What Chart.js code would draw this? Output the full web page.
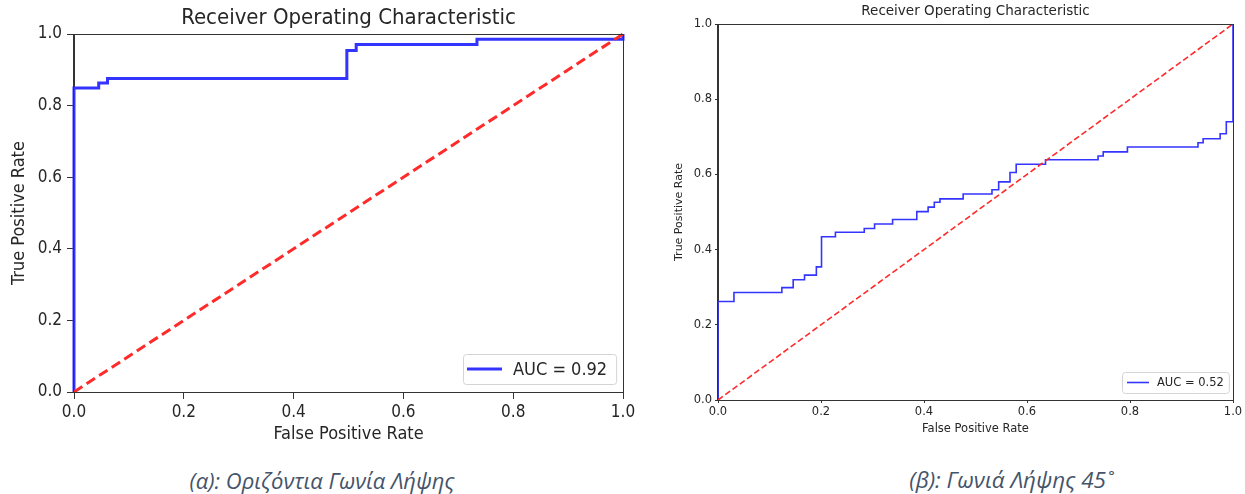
<!DOCTYPE html>
<html>
<head>
<meta charset="utf-8">
<title>ROC</title>
<script src="https://cdn.jsdelivr.net/npm/chart.js"></script>
<style>
body { margin:0; background:#fff; width:1245px; height:494px; position:relative; overflow:hidden; }
.box { position:absolute; }
#boxA { left:0; top:0; width:640px; height:452px; }
#boxB { left:660px; top:0; width:585px; height:446px; }
.cap { position:absolute; font-family:"Open Sans"; font-style:italic; font-size:22px; line-height:30px; color:#44546a; white-space:nowrap; transform:translateX(-50%); }
</style>
</head>
<body>
<div class="box" id="boxA"><canvas id="rocA"></canvas></div>
<div class="box" id="boxB"><canvas id="rocB"></canvas></div>
<div class="cap" style="left:322px; top:465px;">(α): Οριζόντια Γωνία Λήψης</div>
<div class="cap" style="left:1011px; top:465px; font-size:22.5px;">(β): Γωνιά Λήψης 45˚</div>

<script>
// (α) horizontal angle - ROC points
const fprA = [0, 0, 0.045, 0.061, 0.497, 0.514, 0.734, 1];
const tprA = [0, 0.849, 0.863, 0.876, 0.954, 0.971, 0.985, 1];
const aucA = 'AUC = 0.92';

// (β) 45 degree angle - ROC points
const fprB = [0, 0, 0.031, 0.124, 0.146, 0.168, 0.191, 0.201, 0.228, 0.284,
              0.304, 0.339, 0.386, 0.408, 0.42, 0.431, 0.476, 0.532, 0.545, 0.567,
              0.579, 0.636, 0.738, 0.748, 0.795, 0.932, 0.942, 0.975, 0.987, 1];
const tprB = [0, 0.262, 0.286, 0.299, 0.32, 0.332, 0.354, 0.434, 0.446, 0.456,
              0.468, 0.48, 0.501, 0.513, 0.526, 0.535, 0.548, 0.559, 0.58, 0.605,
              0.627, 0.639, 0.649, 0.66, 0.673, 0.684, 0.695, 0.708, 0.74, 1];
const aucB = 'AUC = 0.52';

// chance line
const diagX = [0, 1];
const diagY = [0, 1];
const tickVals = [0, 0.2, 0.4, 0.6, 0.8, 1.0];

const textColor = '#262626';
const rocBlue = '#3434ff';
const chanceRed = '#ff2a2a';
const condensed = '"DejaVu Sans Condensed", "DejaVu Sans"';

// matplotlib box, drawn over the lines like the spines
const framePlugin = {
    id: 'frame',
    afterDatasetsDraw(chart) {
        const a = chart.chartArea, ctx = chart.ctx;
        ctx.save();
        ctx.strokeStyle = '#333';
        ctx.lineWidth = 1;
        ctx.strokeRect(Math.round(a.left) - 0.5, Math.round(a.top) + 0.5,
                       Math.round(a.right - a.left) + 1, Math.round(a.bottom - a.top));
        ctx.restore();
    }
};

// legend box inside lower right corner
const aucLegend = {
    id: 'aucLegend',
    afterDraw(chart, args, o) {
        const a = chart.chartArea, ctx = chart.ctx;
        ctx.save();
        ctx.font = o.size + 'px ' + o.family;
        const tw = ctx.measureText(o.text).width;
        const w = o.padL + o.lineLen + o.gap + tw + o.padR;
        const h = o.h;
        const x = Math.round(a.right - o.offR - w);
        const y = Math.round(a.bottom - o.offB - h);
        ctx.fillStyle = 'rgba(255,255,255,0.85)';
        ctx.strokeStyle = '#d4d4d4';
        ctx.lineWidth = 1;
        ctx.beginPath();
        ctx.roundRect(x + 0.5, y + 0.5, w, h, 3);
        ctx.fill();
        ctx.stroke();
        ctx.strokeStyle = rocBlue;
        ctx.lineWidth = o.lw;
        ctx.beginPath();
        ctx.moveTo(x + o.padL, y + h / 2);
        ctx.lineTo(x + o.padL + o.lineLen, y + h / 2);
        ctx.stroke();
        ctx.fillStyle = textColor;
        ctx.textBaseline = 'middle';
        ctx.fillText(o.text, x + o.padL + o.lineLen + o.gap, y + h / 2 + 1);
        ctx.restore();
    }
};

function rocChart(id, fpr, tpr, auc, s) {
    const pts = fpr.map((x, i) => ({x: x, y: tpr[i]}));
    const diag = diagX.map((x, i) => ({x: x, y: diagY[i]}));
    const tickFont = {family: s.family, size: s.tick};
    const axisFont = {family: s.family, size: s.axis};
    return new Chart(document.getElementById(id), {
        type: 'scatter',
        data: {
            datasets: [
                { label: 'chance', data: diag, showLine: true, borderColor: chanceRed,
                  borderWidth: s.lw, borderDash: s.dash, pointRadius: 0, clip: false },
                { label: auc, data: pts, showLine: true, stepped: 'before', borderColor: rocBlue,
                  borderWidth: s.lw, pointRadius: 0, clip: false }
            ]
        },
        options: {
            responsive: true,
            maintainAspectRatio: false,
            animation: false,
            events: [],
            layout: { padding: { left: 0, right: s.padR, top: 0, bottom: 0 } },
            plugins: {
                legend: { display: false },
                tooltip: { enabled: false },
                title: {
                    display: true,
                    text: 'Receiver Operating Characteristic',
                    fullSize: false,
                    color: textColor,
                    font: {family: s.family, size: s.title, weight: 'normal'},
                    padding: {top: s.titleTop, bottom: s.titleBottom}
                },
                aucLegend: s.legend
            },
            scales: {
                x: {
                    type: 'linear', min: 0, max: 1,
                    afterBuildTicks: sc => { sc.ticks = tickVals.map(v => ({value: v})); },
                    afterFit: sc => { sc.height = s.xH; },
                    ticks: { color: textColor, font: tickFont, padding: s.xPad, maxRotation: 0,
                             callback: v => v.toFixed(1) },
                    grid: { display: true, drawOnChartArea: false, drawTicks: true,
                            tickLength: s.tickLen, color: '#333' },
                    border: { display: true, color: '#333' },
                    title: { display: true, text: 'False Positive Rate', color: textColor,
                             font: axisFont, padding: {top: 0, bottom: s.xTitlePad} }
                },
                y: {
                    type: 'linear', min: 0, max: 1,
                    afterBuildTicks: sc => { sc.ticks = tickVals.map(v => ({value: v})); },
                    afterFit: sc => { sc.width = s.yW; },
                    ticks: { color: textColor, font: tickFont, padding: s.yPad,
                             callback: v => v.toFixed(1) },
                    grid: { display: true, drawOnChartArea: false, drawTicks: true,
                            tickLength: s.tickLen, color: '#333' },
                    border: { display: true, color: '#333' },
                    title: { display: true, text: 'True Positive Rate', color: textColor,
                             font: {family: s.family, size: s.yAxis}, padding: {top: s.yTitlePad, bottom: 0} }
                }
            }
        },
        plugins: [framePlugin, aucLegend]
    });
}

rocChart('rocA', fprA, tprA, aucA, {
    family: condensed,
    lw: 3, dash: [10, 5], padR: 17, yW: 74, xH: 60,
    title: 22, titleTop: 5, titleBottom: 2.6,
    tick: 17, axis: 18, yAxis: 18, tickLen: 7, xPad: 3, yPad: 5,
    xTitlePad: 7, yTitlePad: 9,
    legend: { text: aucA, family: condensed, size: 18, padL: 4, padR: 9, lineLen: 35, gap: 11,
              h: 30, offR: 7, offB: 8, lw: 3 }
});

rocChart('rocB', fprB, tprB, aucB, {
    family: '"DejaVu Sans"',
    lw: 1.6, dash: [6, 3], padR: 12, yW: 58, xH: 46,
    title: 13.5, titleTop: 3, titleBottom: 4.8,
    tick: 11.5, axis: 11.5, yAxis: 11, tickLen: 3, xPad: 2, yPad: 3,
    xTitlePad: 10, yTitlePad: 13,
    legend: { text: aucB, family: '"DejaVu Sans"', size: 11.5, padL: 5, padR: 5, lineLen: 22, gap: 8,
              h: 21, offR: 4, offB: 7, lw: 1.6 }
});
</script>
</body>
</html>
